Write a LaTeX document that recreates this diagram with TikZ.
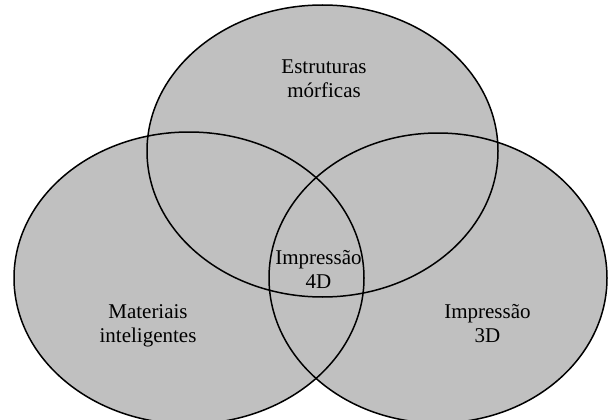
\documentclass[tikz,border=0pt]{standalone}
\usepackage{fontspec}
\setmainfont{Liberation Serif}
\begin{document}
\begin{tikzpicture}[x=1pt,y=-1pt,
  setfill/.style={fill={rgb,255:red,192;green,192;blue,192}},
  setline/.style={draw=black,line width=1.5pt},
  label/.style={align=center,inner sep=0pt,font=\fontsize{21}{23.5}\selectfont}]
\useasboundingbox (0,0) rectangle (608,420);
% filled ellipses first, outlines on top
\fill[setfill] (322.5,151) ellipse [x radius=175.5, y radius=146];
\fill[setfill] (189,278) ellipse [x radius=175, y radius=146];
\fill[setfill] (438,278) ellipse [x radius=169, y radius=145];
\draw[setline] (322.5,151) ellipse [x radius=175.5, y radius=146];
\draw[setline] (189,278) ellipse [x radius=175, y radius=146];
\draw[setline] (438,278) ellipse [x radius=169, y radius=145];
% set labels (base anchor sits on the last line)
\node[label,anchor=base] (morf) at (324,97) {Estruturas\\mórficas};
\node[label,anchor=base] (mat) at (148,342) {Materiais\\inteligentes};
\node[label,anchor=base] (p3d) at (487.5,342) {Impressão\\3D};
\node[label,anchor=base] (p4d) at (318.5,288) {Impressão\\4D};
\end{tikzpicture}
\end{document}
